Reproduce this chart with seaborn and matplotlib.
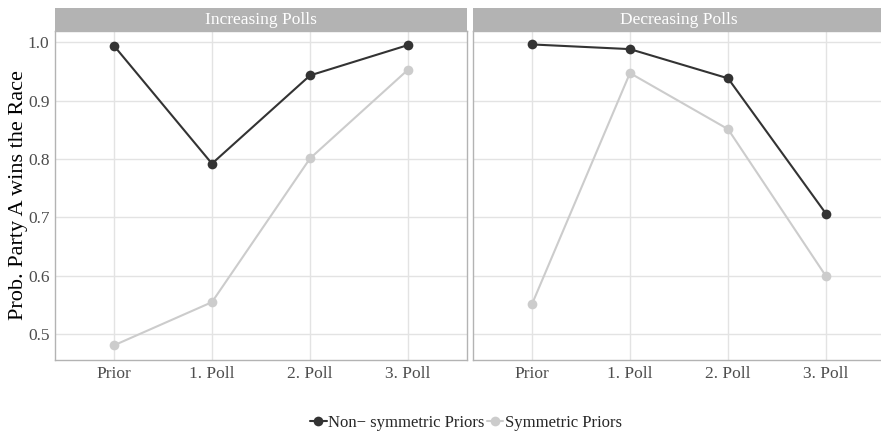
import matplotlib
matplotlib.use("Agg")
import matplotlib.pyplot as plt
from matplotlib.lines import Line2D
from matplotlib.patches import Rectangle
import pandas as pd
import seaborn as sns

stages = ["Prior", "1. Poll", "2. Poll", "3. Poll"]
panels = ["Increasing Polls", "Decreasing Polls"]
series = ["Non\u2212 symmetric Priors", "Symmetric Priors"]

inc_nonsym = [0.994, 0.792, 0.943, 0.995]
inc_sym = [0.481, 0.555, 0.801, 0.953]
dec_nonsym = [0.996, 0.988, 0.938, 0.706]
dec_sym = [0.551, 0.947, 0.851, 0.599]

colors = {series[0]: "#333333", series[1]: "#cccccc"}

rows = []
for panel, nonsym, sym in [(panels[0], inc_nonsym, inc_sym), (panels[1], dec_nonsym, dec_sym)]:
    for s, vals in [(series[0], nonsym), (series[1], sym)]:
        for st, v in zip(stages, vals):
            rows.append({"panel": panel, "series": s, "stage": st, "prob": v})
df = pd.DataFrame(rows)

sns.set_style("white")
plt.rcParams["font.family"] = ["Liberation Serif", "DejaVu Serif"]

fig = plt.figure(figsize=(8.81, 4.33), dpi=100)
W, H = 881, 433
ax_w = 412 / W
ax_b = (H - 360) / H
ax_h = 329 / H
lefts = [55 / W, 473 / W]
strip_h = 23 / 329

for i, panel in enumerate(panels):
    ax = fig.add_axes([lefts[i], ax_b, ax_w, ax_h])
    sub = df[df["panel"] == panel]
    # light series first so the dark one sits on top
    for s in [series[1], series[0]]:
        d = sub[sub["series"] == s]
        sns.lineplot(data=d, x="stage", y="prob", color=colors[s], linewidth=1.5,
                     marker="o", markersize=7, markeredgewidth=0, ax=ax,
                     legend=False, sort=False)
    ax.set_xlim(-0.6, 3.6)
    ax.set_ylim(0.456, 1.019)
    ax.set_yticks([0.5, 0.6, 0.7, 0.8, 0.9, 1.0])
    ax.grid(True, color="#e3e3e3", linewidth=1)
    ax.set_axisbelow(True)
    ax.set_xlabel("")
    for sp in ax.spines.values():
        sp.set_color("#b3b3b3")
        sp.set_linewidth(1)
    ax.tick_params(axis="both", length=0, labelsize=12.5, colors="#4d4d4d", pad=4)
    if i == 0:
        ax.set_ylabel("Prob. Party A wins the Race", fontsize=16, color="black", labelpad=0)
        ax.tick_params(axis="y", length=3, color="#b3b3b3", width=0.8, pad=1)
    else:
        ax.set_ylabel("")
        ax.set_yticklabels([])
    ax.add_patch(Rectangle((0, 1.0), 1, strip_h, transform=ax.transAxes,
                           facecolor="#b3b3b3", edgecolor="none", clip_on=False))
    ax.text(0.5, 1.0 + strip_h / 2, panel, transform=ax.transAxes, ha="center",
            va="center", fontsize=12.5, color="white")

handles = [Line2D([0], [0], color=colors[s], marker="o", markersize=7,
                  markeredgewidth=0, linewidth=1.5) for s in series]
fig.legend(handles, series, loc="center", bbox_to_anchor=(466 / W, 10 / H), ncol=2,
           frameon=False, fontsize=12, handlelength=1.0, handletextpad=0.1,
           columnspacing=0.1)

fig.savefig("out.png", dpi=100)
